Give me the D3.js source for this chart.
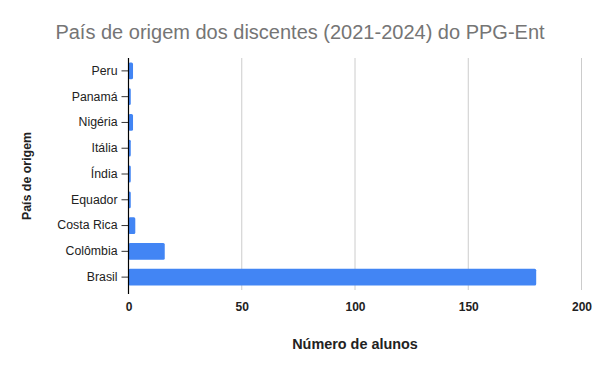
<!DOCTYPE html>
<html lang="pt">
<head>
<meta charset="UTF-8">
<script src="https://d3js.org/d3.v7.min.js"></script>
<style>
  body { margin: 0; background: #fff; }
  text { font-family: "Liberation Sans", Arial, sans-serif; }
</style>
</head>
<body>
<svg width="600" height="371"></svg>
<script>
// dados
const paises = ["Peru", "Panamá", "Nigéria", "Itália", "Índia", "Equador", "Costa Rica", "Colômbia", "Brasil"];
const alunos = [2, 1, 2, 1, 1, 1, 3, 16, 180];
const xTicks = [0, 50, 100, 150, 200];

const svg = d3.select("svg");
const mLeft = 128.5, mRight = 581.5, mTop = 58, mBottom = 290;

const x = d3.scaleLinear().domain([0, 200]).range([mLeft, mRight]);
const y = d3.scaleBand().domain(paises).range([mTop, mBottom]).paddingInner(0.35).paddingOuter(0.175);

// grade
svg.append("g")
  .selectAll("line")
  .data(xTicks.slice(1))
  .enter()
  .append("line")
  .attr("x1", d => x(d)).attr("x2", d => x(d))
  .attr("y1", mTop).attr("y2", mBottom)
  .attr("stroke", "#cccccc")
  .attr("stroke-width", 1);

// barras
svg.append("g")
  .selectAll("rect")
  .data(paises)
  .enter()
  .append("rect")
  .attr("x", x(0))
  .attr("y", d => y(d))
  .attr("width", (d, i) => x(alunos[i]) - x(0))
  .attr("height", y.bandwidth())
  .attr("rx", 1.5)
  .attr("fill", "#4285f4");

// eixo y
const yAxis = svg.append("g")
  .attr("transform", "translate(" + mLeft + ",0)")
  .call(d3.axisLeft(y).tickSize(7).tickPadding(4).tickSizeOuter(0));
yAxis.select(".domain").remove();
yAxis.selectAll("line").attr("stroke", "#333");
yAxis.selectAll("text").style("font-size", "12.3px").attr("fill", "#222");

svg.append("line")
  .attr("x1", x(0)).attr("x2", x(0))
  .attr("y1", mTop).attr("y2", mBottom + 4)
  .attr("stroke", "#000").attr("stroke-width", 1.2);

// eixo x
const xAxis = svg.append("g")
  .attr("transform", "translate(0," + mBottom + ")")
  .call(d3.axisBottom(x).tickValues(xTicks).tickSize(0).tickPadding(12));
xAxis.select(".domain").remove();
xAxis.selectAll("text").style("font-size", "12px").style("font-weight", "bold").attr("fill", "#222");

// titulos
svg.append("text")
  .attr("x", 300).attr("y", 39)
  .attr("text-anchor", "middle")
  .style("font-size", "20px")
  .attr("fill", "#757575")
  .text("País de origem dos discentes (2021-2024) do PPG-Ent");

svg.append("text")
  .attr("x", x(100)).attr("y", 349)
  .attr("text-anchor", "middle")
  .style("font-size", "14.4px")
  .style("font-weight", "bold")
  .attr("fill", "#222")
  .text("Número de alunos");

svg.append("text")
  .attr("transform", "translate(30.6,176) rotate(-90)")
  .attr("text-anchor", "middle")
  .style("font-size", "12.4px")
  .style("font-weight", "bold")
  .attr("fill", "#222")
  .text("País de origem");
</script>
</body>
</html>
